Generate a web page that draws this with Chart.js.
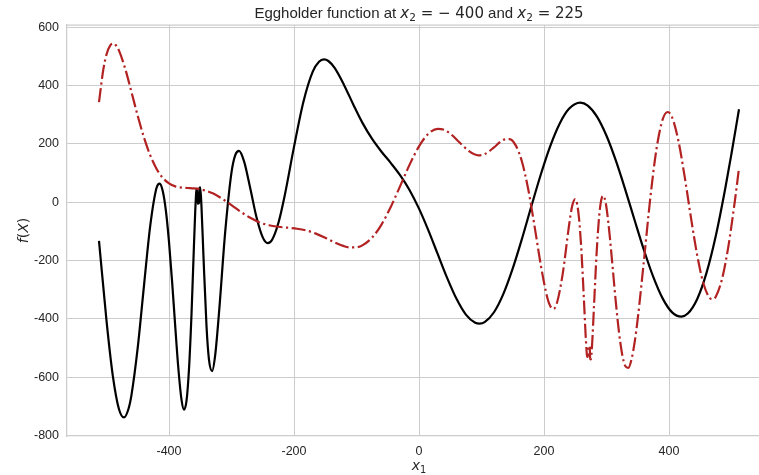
<!DOCTYPE html>
<html>

<head>
    <meta charset="utf-8" />
    <style>
        html, body { margin: 0; padding: 0; overflow: hidden; background: #ffffff; }
    </style>
</head>

<body>
    <canvas id="eggChart" width="800" height="475" style="display:block; width:800px; height:475px;"></canvas>

    <script src="https://cdn.jsdelivr.net/npm/chart.js@4.4.0/dist/chart.umd.min.js"></script>

    <script>
        // x2 = -400 (black, solid)
        const x1Low = [-512, -500, -490, -480, -472, -465, -460, -450, -440, -430, -420, -415, -410, -405, -400,
            -395, -390, -385, -380, -376, -372, -368, -364, -361, -358, -357, -356, -355, -354, -352, -351, -350,
            -348, -345, -340, -336, -331, -326, -320, -310, -300, -294, -288, -280, -270, -260, -250, -242, -235,
            -225, -215, -200, -185, -170, -160, -152, -145, -135, -120, -105, -90, -75, -60, -45, -30, -15, 0,
            15, 30, 45, 60, 75, 90, 97, 105, 120, 135, 150, 165, 180, 195, 210, 225, 240, 258, 270, 285, 300,
            315, 330, 345, 360, 375, 390, 405, 420, 430, 445, 460, 475, 490, 500, 512];
        const fLow = [-132, -406, -593.5, -710, -738, -710, -660.5, -498, -285.5, -80, 49.3, 64.2, 38.7, -28.6, -135.8,
            -273.5, -426.4, -571, -677, -711.6, -681.5, -572, -384, -204, -28.7, 16, 45, 45.7, -5, -2.6, 50, 51,
            -16.7, -177, -424.5, -540.5, -579, -522.5, -379.5, -100, 102.7, 162, 176.7, 141.4, 48.2, -51.5, -120.4, -140, -128.5,
            -71.2, 21.8, 190, 344, 448, 482, 490, 484.7, 460.8, 402.8, 334.8, 270.7, 217.4, 173.5, 134.5, 92.3, 41.5, -21.8,
            -96.3, -178, -259.3, -331.2, -385.1, -413, -416, -410.9, -377.2, -314.1, -226.7, -123.2, -11.9, 96.3, 192.9, 269.8, 320.6, 342, 331.8, 293.1, 228.2,
            142.8, 43.7, -61.5, -164.4, -256.7, -330.5, -377.6, -392, -381.8, -332.3, -242.2, -114, 47.1, 167.5, 319];

        // x2 = 225 (red, dash-dot)
        const x1High = [-512, -505, -500, -494, -488, -485, -480, -470, -460, -450, -440, -430, -420, -410, -400,
            -390, -380, -370, -360, -350, -340, -330, -320, -310, -300, -290, -280, -270, -255, -240, -225, -210,
            -195, -180, -165, -150, -135, -120, -110, -100, -90, -75, -60, -45, -30, -15, 0, 15, 30, 40, 50, 65,
            80, 95, 105, 120, 135, 145, 155, 165, 175, 185, 195, 205, 210, 215, 220, 230, 240, 245, 250, 253, 256,
            260, 264, 267, 269, 270, 271, 273, 274, 275, 277, 280, 284, 288, 291, 293, 295, 297, 300, 305, 310,
            315, 320, 325, 330, 335, 340, 345, 350, 360, 370, 380, 390, 398, 405, 415, 425, 435, 445, 455, 465,
            470, 475, 485, 495, 505, 512];
        const fHigh = [344, 456.6, 506.9, 538.4, 544.7, 538.7, 520.4, 457.8, 377.9, 296.3, 222, 161, 115.3, 83.8, 64.9,
            54.6, 50.4, 49, 47.7, 44.6, 38.9, 30.7, 19.2, 5.3, -9.6, -25.2, -40, -53.1, -69, -78.7, -84, -87.2,
            -90.7, -96.8, -107.5, -121.6, -137.5, -150.4, -154.8, -154.4, -146.9, -121.2, -76.4, -15, 56.3, 129.2, 192, 235.2, 252, 248.7, 235.5, 205,
            175.3, 161.1, 165.2, 188.1, 214.6, 217, 194.4, 137.2, 42.1, -83.3, -217, -324.7, -355.8, -365.6, -350.3, -244.7, -80.5, -13.9, 10.8, -6.1, -54.5,
            -171, -339.5, -471, -528.5, -530.6, -492.7, -495.8, -537.5, -538.7, -486.2, -356.2, -181.2, -53.9, 1.2, 18.6, 22.3, 13.9, -18.6, -111.7, -227.2,
            -344.5, -446.3, -520.8, -561.5, -568, -539, -480.3, -399.3, -197.5, 12.7, 183, 285.3, 309.8, 291.6, 211.4, 88.7, -50.6, -180.3, -277.8, -327.8,
            -332.4, -322.9, -261.5, -151.2, -1.7, 116.8];

        const xTicks = [-400, -200, 0, 200, 400];
        const yTicks = [-800, -600, -400, -200, 0, 200, 400, 600];

        function toPoints(xs, ys) {
            return xs.map((x, i) => ({ x: x, y: ys[i] }));
        }

        const textColor = '#262626';
        const gridColor = '#cccccc';

        // title, axis labels (with math-style italic x and subscripts) and top spine
        const labelPlugin = {
            id: 'labelPlugin',
            afterDraw(chart) {
                const ctx = chart.ctx;
                const area = chart.chartArea;
                ctx.save();

                ctx.strokeStyle = gridColor;
                ctx.lineWidth = 1.25;
                ctx.beginPath();
                ctx.moveTo(area.left, area.top);
                ctx.lineTo(area.right, area.top);
                ctx.lineTo(area.right, area.bottom);
                ctx.stroke();

                ctx.fillStyle = textColor;
                ctx.textAlign = 'left';
                ctx.textBaseline = 'alphabetic';

                function drawParts(parts, cx, baseline) {
                    let w = 0;
                    parts.forEach(p => { ctx.font = p[1]; w += ctx.measureText(p[0]).width; });
                    let x = cx - w / 2;
                    parts.forEach(p => {
                        ctx.font = p[1];
                        ctx.fillText(p[0], x, baseline + p[2]);
                        x += ctx.measureText(p[0]).width;
                    });
                }

                const cx = (area.left + area.right) / 2;
                drawParts([
                    ['Eggholder function at ', '15px "Liberation Sans"', 0],
                    ['x', 'italic 15px "DejaVu Sans"', 0],
                    ['2', '10.5px "DejaVu Sans"', 3],
                    [' = \u2212 400', '15px "DejaVu Sans"', 0],
                    [' and ', '15px "Liberation Sans"', 0],
                    ['x', 'italic 15px "DejaVu Sans"', 0],
                    ['2', '10.5px "DejaVu Sans"', 3],
                    [' = 225', '15px "DejaVu Sans"', 0]
                ], cx, 18);

                drawParts([
                    ['x', 'italic 14px "DejaVu Sans"', 0],
                    ['1', '9.8px "DejaVu Sans"', 3]
                ], cx, 470);

                ctx.translate(28, (area.top + area.bottom) / 2);
                ctx.rotate(-Math.PI / 2);
                drawParts([
                    ['f', 'italic 14px "DejaVu Sans"', 0],
                    ['(', '14px "DejaVu Sans"', 0],
                    ['X', 'italic 14px "DejaVu Sans"', 0],
                    [')', '14px "DejaVu Sans"', 0]
                ], 0, 0);

                ctx.restore();
            }
        };

        let ctxEl = document.getElementById('eggChart');
        let eggChart = new Chart(ctxEl, {
            type: 'line',
            data: {
                datasets: [{
                    label: 'x2 = 225',
                    data: toPoints(x1High, fHigh),
                    borderColor: '#b22222',
                    borderWidth: 2.2,
                    borderDash: [14, 3.5, 2.2, 3.5],
                    pointRadius: 0,
                    fill: false,
                    cubicInterpolationMode: 'monotone',
                    order: 0
                }, {
                    label: 'x2 = -400',
                    data: toPoints(x1Low, fLow),
                    borderColor: '#000000',
                    borderWidth: 2.2,
                    pointRadius: 0,
                    fill: false,
                    cubicInterpolationMode: 'monotone',
                    order: 1
                }]
            },
            options: {
                responsive: false,
                animation: false,
                devicePixelRatio: 1,
                layout: {
                    padding: { left: 0, right: 29, top: 25, bottom: 0 }
                },
                plugins: {
                    legend: { display: false },
                    title: { display: false },
                    tooltip: { enabled: false }
                },
                scales: {
                    x: {
                        type: 'linear',
                        min: -563.2,
                        max: 563.2,
                        afterBuildTicks: s => { s.ticks = xTicks.map(v => ({ value: v })); },
                        afterFit: s => { s.height = 39; },
                        grid: { color: gridColor, lineWidth: 1, drawTicks: false },
                        border: { color: gridColor, width: 1.25 },
                        ticks: {
                            color: textColor,
                            padding: 8,
                            maxRotation: 0,
                            autoSkip: false,
                            font: { family: 'Liberation Sans', size: 12.5 },
                            callback: v => String(v)
                        }
                    },
                    y: {
                        type: 'linear',
                        min: -801.7,
                        max: 608.2,
                        afterBuildTicks: s => { s.ticks = yTicks.map(v => ({ value: v })); },
                        afterFit: s => { s.width = 67; },
                        grid: { color: gridColor, lineWidth: 1, drawTicks: false },
                        border: { color: gridColor, width: 1.25 },
                        ticks: {
                            color: textColor,
                            padding: 8,
                            autoSkip: false,
                            font: { family: 'Liberation Sans', size: 12.5 },
                            callback: v => String(v)
                        }
                    }
                }
            },
            plugins: [labelPlugin]
        });
    </script>
</body>

</html>
